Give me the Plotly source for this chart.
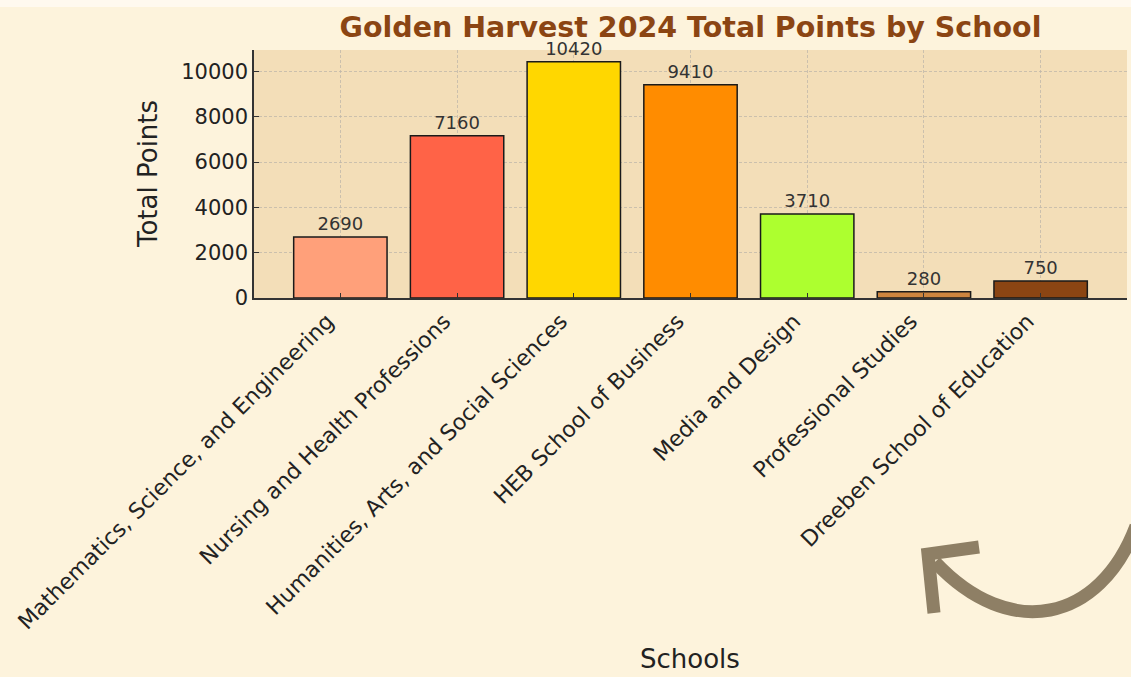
import plotly.graph_objects as go

schools = [
    "Mathematics, Science, and Engineering",
    "Nursing and Health Professions",
    "Humanities, Arts, and Social Sciences",
    "HEB School of Business",
    "Media and Design",
    "Professional Studies",
    "Dreeben School of Education",
]
points = [2690, 7160, 10420, 9410, 3710, 280, 750]
bar_colors = ["#FFA07A", "#FF6347", "#FFD700", "#FF8C00", "#ADFF2F", "#CD853F", "#8B4513"]
y_ticks = [0, 2000, 4000, 6000, 8000, 10000]
y_tick_text = ["0", "2000", "4000", "6000", "8000", "10000"]

W, H = 1131, 677
L, R, T, B = 254, 1127, 50, 298  # plot area pixel box

def px(x):
    return (x - L) / (R - L)

def py(y):
    return (B - y) / (B - T)

fig = go.Figure()
fig.add_trace(go.Bar(
    x=schools, y=points,
    marker=dict(color=bar_colors, line=dict(color="#1a1a1a", width=1.5)),
    width=0.8,
    text=[str(v) for v in points],
    textposition="outside",
    cliponaxis=False,
    textfont=dict(family="DejaVu Sans", size=18, color="#333333"),
))

arrow_color = "#8E7F65"
curve = (f"M {px(1136)},{py(526)} C {px(1100)},{py(622)} {px(1010)},{py(642)} {px(935)},{py(562)}")
head = (f"M {px(979)},{py(547)} L {px(928)},{py(554)} L {px(934)},{py(613)}")
shapes = [
    dict(type="rect", xref="paper", yref="paper", x0=px(0), x1=px(W), y0=py(0), y1=py(7),
         fillcolor="#FFF9EF", line=dict(width=0), layer="below"),
    dict(type="path", xref="paper", yref="paper", path=curve,
         line=dict(color=arrow_color, width=13)),
    dict(type="path", xref="paper", yref="paper", path=head,
         line=dict(color=arrow_color, width=13)),
]

grid_col = "rgba(190,182,170,0.75)"

fig.update_layout(
    width=W, height=H,
    margin=dict(l=L, r=W - R, t=T, b=H - B, pad=0),
    paper_bgcolor="#FDF3DC",
    plot_bgcolor="#F3DEB8",
    showlegend=False,
    font=dict(family="DejaVu Sans", color="#222222"),
    title=dict(
        text="<b>Golden Harvest 2024 Total Points by School</b>",
        font=dict(family="DejaVu Sans", size=28.5, color="#8B4513"),
        x=(L + R) / 2 / W, xanchor="center",
        y=1 - 27 / H, yanchor="middle",
    ),
    shapes=shapes,
)
fig.update_xaxes(
    type="category",
    range=[-0.74, 6.74],
    tickangle=-45,
    tickfont=dict(size=22, color="#222222"),
    ticklabelshift=-13,
    showline=True, linecolor="#333333", linewidth=1.5, mirror=False,
    ticks="inside", ticklen=5, tickcolor="#333333",
    showgrid=True, gridcolor=grid_col, griddash="3px,2px", gridwidth=1,
    automargin=False,
)
fig.update_yaxes(
    range=[0, 10941],
    tickvals=y_ticks, ticktext=y_tick_text,
    tickfont=dict(size=21, color="#222222"),
    showline=True, linecolor="#333333", linewidth=1.5, mirror=False,
    ticks="inside", ticklen=5, tickcolor="#333333",
    showgrid=True, gridcolor=grid_col, griddash="3px,2px", gridwidth=1,
    zeroline=False,
    automargin=False,
)
fig.add_annotation(text="Schools", xref="paper", yref="paper", x=px(690), y=py(659),
                   showarrow=False, font=dict(size=26, color="#222222"),
                   xanchor="center", yanchor="middle")
fig.add_annotation(text="Total Points", xref="paper", yref="paper", x=px(148), y=py(174),
                   showarrow=False, font=dict(size=26, color="#222222"), textangle=-90,
                   xanchor="center", yanchor="middle")

fig.write_html("out.html", config={"displayModeBar": False},
               post_script="document.body.style.margin='0';")
